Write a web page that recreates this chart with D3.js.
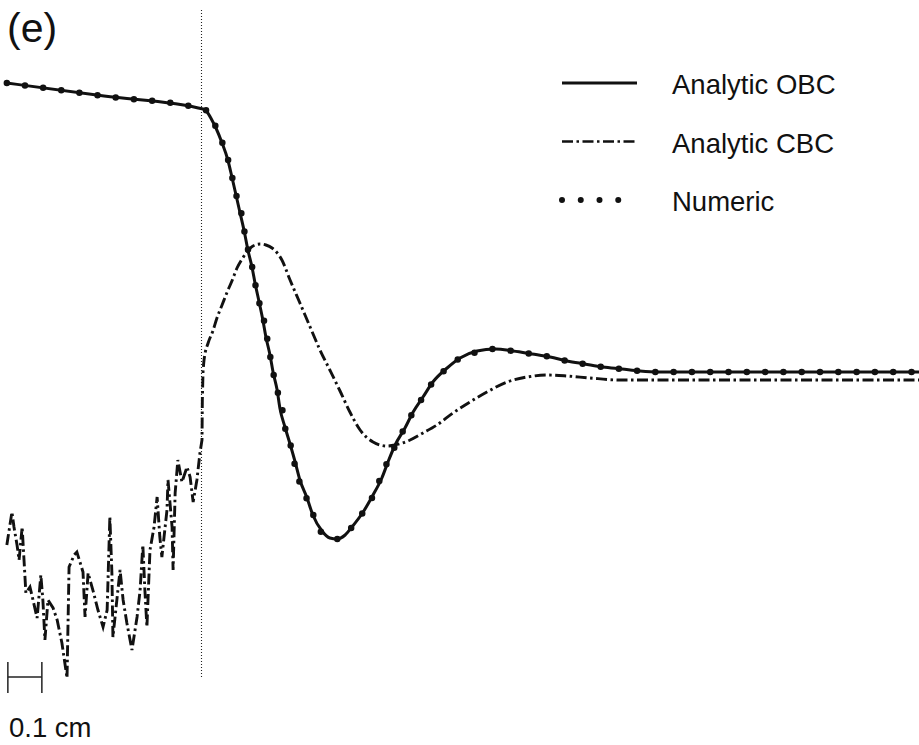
<!DOCTYPE html>
<html>
<head>
<meta charset="utf-8">
<script src="https://cdn.jsdelivr.net/npm/d3@7"></script>
<style>
  body { margin: 0; background: #fff; }
  text { font-family: "Liberation Sans", Arial, Helvetica, sans-serif; fill: #111; }
</style>
</head>
<body>
<svg width="919" height="745"></svg>
<script>
// position in mm (interface at 0), amplitude in arbitrary units

// analytic, open boundary condition
var obcX = [-5.74, -2.88, 0.03, 0.15, 0.29, 0.41, 0.59, 0.76, 0.88, 1.00, 1.12, 1.24, 1.35, 1.47,
  1.56, 1.68, 1.79, 1.88, 2.00, 2.09, 2.21, 2.29, 2.44, 2.59, 2.74, 2.88, 3.09, 3.26, 3.53, 3.76,
  3.97, 4.21, 4.41, 4.74, 5.03, 5.29, 5.47, 5.68, 5.97, 6.21, 6.50, 6.79, 7.21, 7.59, 8.09, 8.62,
  9.15, 9.71, 10.24, 10.74, 11.26, 11.79, 12.35, 12.88, 13.41, 17.0, 21.09];
var obcY = [2.89, 2.76, 2.63, 2.60, 2.52, 2.44, 2.29, 2.12, 1.95, 1.77, 1.59, 1.41, 1.22, 1.05,
  0.89, 0.70, 0.52, 0.35, 0.17, 0.00, -0.18, -0.36, -0.55, -0.72, -0.90, -1.08, -1.26, -1.43, -1.59, -1.66,
  -1.67, -1.63, -1.55, -1.40, -1.23, -1.06, -0.90, -0.73, -0.56, -0.40, -0.25, -0.10, 0.04, 0.14, 0.21, 0.23,
  0.21, 0.18, 0.15, 0.11, 0.08, 0.05, 0.03, 0.01, 0.00, 0.00, 0.00];

// analytic, closed boundary condition
var cbcX = [-5.74, -5.59, -5.53, -5.44, -5.38, -5.29, -5.24, -5.18, -5.06, -4.97, -4.85, -4.74, -4.68,
  -4.62, -4.53, -4.38, -4.26, -4.12, -3.97, -3.91, -3.76, -3.68, -3.50, -3.44, -3.35, -3.21, -3.06,
  -2.91, -2.79, -2.71, -2.65, -2.62, -2.41, -2.32, -2.21, -2.06, -1.91, -1.82, -1.74, -1.68, -1.62,
  -1.53, -1.41, -1.32, -1.24, -1.18, -1.03, -1.00, -0.88, -0.85, -0.79, -0.71, -0.59, -0.44, -0.35,
  -0.26, -0.15, -0.06, 0.00, 0.01, 0.03,
  0.06, 0.18, 0.32, 0.44, 0.59, 0.74, 0.88, 1.03, 1.18, 1.32, 1.50, 1.71, 1.88, 2.06, 2.35, 2.59,
  2.88, 3.18, 3.47, 3.76, 4.06, 4.35, 4.65, 5.03, 5.44, 5.68, 6.12, 6.50, 6.91, 7.38, 7.88, 8.38,
  8.97, 9.56, 10.15, 10.74, 11.41, 12.29, 14.65, 21.09];
var cbcY = [-1.73, -1.40, -1.55, -1.73, -1.88, -1.55, -1.85, -2.21, -2.15, -2.28, -2.46, -2.03, -2.28,
  -2.68, -2.28, -2.36, -2.48, -2.71, -3.06, -1.95, -1.83, -1.80, -2.00, -2.45, -2.01, -2.18, -2.38,
  -2.55, -2.38, -1.45, -2.01, -2.65, -1.98, -2.28, -2.51, -2.78, -2.45, -2.18, -1.73, -2.18, -2.55,
  -1.78, -1.55, -1.25, -1.65, -1.85, -1.38, -1.08, -1.55, -1.98, -1.21, -0.88, -1.10, -0.95, -1.05,
  -1.30, -1.08, -0.81, -0.68, -0.28, 0.00,
  0.12, 0.29, 0.41, 0.54, 0.67, 0.80, 0.91, 1.04, 1.13, 1.20, 1.26, 1.28, 1.27, 1.24, 1.12, 0.92,
  0.69, 0.45, 0.22, 0.02, -0.19, -0.40, -0.58, -0.70, -0.74, -0.73, -0.68, -0.61, -0.53, -0.41, -0.30, -0.20,
  -0.10, -0.05, -0.03, -0.04, -0.06, -0.08, -0.08, -0.08];

// numerical solution
var numX = [-5.74, -2.88, 0.00, 0.15, 0.38, 0.59, 0.76, 0.88, 1.00, 1.15, 1.24, 1.35, 1.47, 1.56,
  1.68, 1.82, 1.91, 2.00, 2.09, 2.21, 2.35, 2.44, 2.59, 2.71, 2.85, 3.06, 3.26, 3.50, 4.00, 4.41,
  4.74, 5.03, 5.24, 5.44, 5.68, 5.94, 6.21, 6.50, 6.79, 7.18, 7.59, 8.09, 8.62, 9.15, 9.71, 10.24,
  10.74, 11.26, 11.79, 12.35, 12.88, 13.41, 17.0, 21.09];
var numY = [2.89, 2.76, 2.63, 2.61, 2.47, 2.30, 2.13, 1.96, 1.78, 1.60, 1.42, 1.23, 1.06, 0.89,
  0.70, 0.52, 0.35, 0.17, 0.00, -0.18, -0.35, -0.55, -0.71, -0.90, -1.08, -1.25, -1.42, -1.60, -1.67, -1.55,
  -1.40, -1.24, -1.07, -0.91, -0.74, -0.57, -0.40, -0.25, -0.10, 0.03, 0.14, 0.20, 0.23, 0.21, 0.18, 0.15,
  0.11, 0.08, 0.05, 0.03, 0.01, 0.00, 0.00, 0.00];

var legendLabels = ["Analytic OBC", "Analytic CBC", "Numeric"];
var panelLabel = "(e)";
var scaleLabel = "0.1 cm";
var interfaceX = 0;
var scaleBarStart = -5.71, scaleBarLength = 1; // 1 mm = 0.1 cm

var svg = d3.select("svg");
svg.append("rect").attr("width", 919).attr("height", 745).attr("fill", "#fff");

var x = d3.scaleLinear().domain([-6, 21.5]).range([-2, 933]);
var y = d3.scaleLinear().domain([-3.1, 3.1]).range([682, 62]);

function zip(xs, ys) { return xs.map((v, i) => ({x: v, y: ys[i]})); }

var smooth = d3.line().curve(d3.curveMonotoneX).x(d => x(d.x)).y(d => y(d.y));
var straight = d3.line().x(d => x(d.x)).y(d => y(d.y));

// interface
svg.append("line")
    .attr("x1", x(interfaceX) - 0.5).attr("x2", x(interfaceX) - 0.5)
    .attr("y1", 10).attr("y2", 678)
    .attr("stroke", "#222").attr("stroke-width", 1.1)
    .attr("stroke-dasharray", "1,2");

// CBC: noisy part straight, rest smooth
var cbc = zip(cbcX, cbcY);
var split = cbcX.indexOf(0.03);
svg.append("path")
    .attr("d", straight(cbc.slice(0, split + 1)) + smooth(cbc.slice(split)).replace(/^M[^A-Za-z]*/, "L" + x(0.03) + "," + y(0)))
    .attr("fill", "none").attr("stroke", "#111").attr("stroke-width", 2.9)
    .attr("stroke-dasharray", "11,3.5,2.5,3.5");

svg.append("path")
    .datum(zip(obcX, obcY))
    .attr("d", smooth)
    .attr("fill", "none").attr("stroke", "#111").attr("stroke-width", 3);

svg.append("path")
    .datum(zip(numX, numY))
    .attr("d", smooth)
    .attr("fill", "none").attr("stroke", "#111").attr("stroke-width", 6.5)
    .attr("stroke-linecap", "round")
    .attr("stroke-dasharray", "0,18.3");

// legend
var lg = svg.append("g");
var styles = [
  {w: 2.8, dash: null, cap: "butt"},
  {w: 2.6, dash: "11,3.5,2.5,3.5", cap: "butt"},
  {w: 6, dash: "0,18.75", cap: "round"}
];
legendLabels.forEach(function(lab, i) {
  var ly = 83 + i * 58.5;
  lg.append("line")
      .attr("x1", 562).attr("x2", 637).attr("y1", ly).attr("y2", ly)
      .attr("stroke", "#111").attr("stroke-width", styles[i].w)
      .attr("stroke-linecap", styles[i].cap)
      .attr("stroke-dasharray", styles[i].dash);
  lg.append("text")
      .attr("x", 672).attr("y", ly + 11)
      .attr("font-size", 27.5)
      .text(lab);
});

// panel label
svg.append("text").attr("x", 7).attr("y", 42).attr("font-size", 41).text(panelLabel);

// scale bar
var sb = svg.append("g").attr("stroke", "#222").attr("stroke-width", 1.5);
var x0 = x(scaleBarStart), x1 = x(scaleBarStart + scaleBarLength);
sb.append("line").attr("x1", x0).attr("x2", x1).attr("y1", 677).attr("y2", 677);
sb.append("line").attr("x1", x0).attr("x2", x0).attr("y1", 662).attr("y2", 693);
sb.append("line").attr("x1", x1).attr("x2", x1).attr("y1", 662).attr("y2", 693);
svg.append("text").attr("x", 9).attr("y", 737).attr("font-size", 27.5).text(scaleLabel);
</script>
</body>
</html>
